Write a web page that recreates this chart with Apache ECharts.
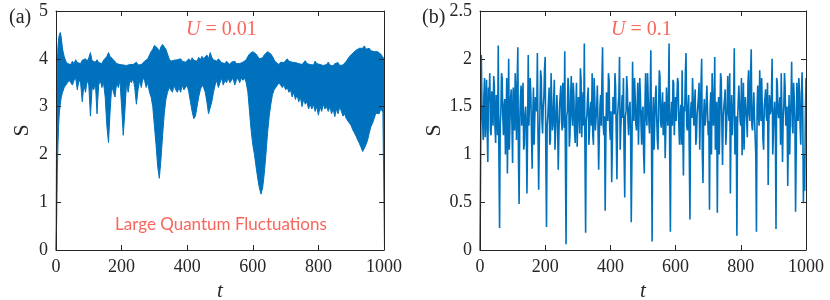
<!DOCTYPE html>
<html>
<head>
<meta charset="utf-8">
<script src="https://cdn.jsdelivr.net/npm/echarts@6/dist/echarts.min.js"></script>
<style>html,body{margin:0;padding:0;background:#fff}#c{width:830px;height:300px}</style>
</head>
<body>
<div id="c"></div>
<script>
// Panel (a): U = 0.01, envelope of the dense oscillation
const tA = [0,2,4,6,8,10,13,16,20,25,
30,35,40,45,50,55,60,65,70,75,
80,85,90,95,100,105,110,115,120,125,
130,135,140,145,150,155,160,165,170,175,
180,185,190,195,200,205,210,215,220,225,
230,235,240,245,250,255,260,265,270,275,
280,285,290,295,300,305,310,315,320,325,
330,335,340,345,350,355,360,365,370,375,
380,385,390,395,400,405,410,415,420,425,
430,435,440,445,450,455,460,465,470,475,
480,485,490,495,500,505,510,515,520,525,
530,535,540,545,550,555,560,565,570,575,
580,585,590,595,600,605,610,615,620,625,
630,635,640,645,650,655,660,665,670,675,
680,685,690,695,700,705,710,715,720,725,
730,735,740,745,750,755,760,765,770,775,
780,785,790,795,800,805,810,815,820,825,
830,835,840,845,850,855,860,865,870,875,
880,885,890,895,900,905,910,915,920,925,
930,935,940,945,950,955,960,965,970,975,
980,985,990,995,1000];
const upperA = [0,3.0,3.9,4.25,4.42,4.5,4.55,4.45,4.2,4.05,
3.95,3.9,3.93,3.88,3.95,3.9,3.98,3.92,3.96,3.9,
3.97,3.93,4.0,3.95,4.02,4.13,3.96,4.0,3.93,3.98,
3.92,3.95,3.9,3.97,4.0,4.05,4.13,4.05,4.08,3.98,
3.95,3.9,3.93,3.88,3.92,3.87,3.9,3.86,3.9,3.88,
3.92,3.88,3.9,3.93,3.87,3.9,3.88,3.92,3.95,3.98,
4.0,4.08,4.15,4.2,4.28,4.3,4.22,4.15,4.25,4.3,
4.28,4.2,4.1,4.0,3.95,3.92,3.97,3.93,3.98,3.95,
4.0,3.95,3.98,3.93,3.97,4.0,3.95,4.02,3.97,4.0,
3.95,4.03,3.98,4.05,4.0,4.02,4.08,4.0,4.13,4.03,
3.98,4.02,3.95,4.0,3.97,3.92,3.96,3.9,3.95,3.92,
3.88,3.93,3.9,3.95,3.9,3.86,3.9,3.88,3.93,3.95,
3.98,4.05,4.1,4.12,4.15,4.13,4.1,4.05,4.0,3.98,
4.02,4.08,4.12,4.15,4.15,4.1,4.05,3.98,3.93,3.9,
3.88,3.93,3.97,3.92,3.96,4.0,3.95,3.98,3.93,3.97,
3.92,3.95,3.9,3.94,3.88,3.92,3.96,3.9,3.94,3.88,
3.92,3.87,3.95,3.9,3.93,3.88,3.92,3.86,3.9,3.88,
3.93,3.87,3.9,3.85,3.9,3.88,3.92,3.86,3.9,3.87,
3.9,3.95,4.0,4.05,4.08,4.12,4.15,4.18,4.2,4.22,
4.25,4.22,4.27,4.2,4.18,4.22,4.17,4.2,4.15,4.18,
4.15,4.12,4.1,4.05,4.0];
const lowerA = [0,0.6,1.6,2.2,2.6,2.85,3.05,3.2,3.3,3.4,
3.45,3.5,3.55,3.5,3.45,3.55,3.6,3.35,3.55,3.5,
3.1,3.45,3.3,3.55,3.45,2.8,3.4,3.35,3.5,2.85,
3.45,3.55,3.4,3.5,3.2,2.6,2.25,2.9,3.45,3.3,
3.2,3.5,3.4,3.55,3.0,2.4,2.9,3.5,3.3,3.55,
3.5,3.6,3.4,3.05,3.35,3.55,3.4,3.6,3.55,3.4,
3.5,3.3,3.2,3.0,2.6,2.2,1.75,1.5,1.9,2.4,
2.85,3.15,3.3,3.4,3.35,3.3,3.45,3.35,3.3,3.4,
3.3,3.45,3.35,3.4,3.45,3.3,3.1,2.9,2.75,2.8,
3.0,3.2,3.35,3.45,3.4,3.3,3.1,2.85,2.82,3.1,
3.3,3.45,3.55,3.4,3.5,3.6,3.45,3.55,3.5,3.6,
3.5,3.55,3.6,3.45,3.55,3.6,3.5,3.6,3.55,3.6,
3.5,3.3,2.9,2.5,2.2,2.0,1.74,1.5,1.3,1.17,
1.3,1.6,2.0,2.45,2.8,3.05,3.25,3.35,3.4,3.45,
3.5,3.45,3.4,3.45,3.35,3.4,3.3,3.35,3.2,3.3,
3.15,3.25,3.1,3.2,3.0,3.15,3.05,3.1,2.95,3.05,
2.95,3.05,2.9,3.0,2.82,3.0,2.9,3.05,2.95,3.0,
2.9,3.0,2.85,2.95,2.79,2.95,2.85,3.0,2.9,2.8,
2.85,2.75,2.72,2.65,2.6,2.51,2.45,2.38,2.3,2.23,
2.15,2.06,2.1,2.2,2.3,2.45,2.58,2.65,2.75,2.86,
2.9,2.85,2.95,2.9,2.93];

// Panel (b): U = 0.1 — samples at t = 0,4,8,...,1000
const tB = [0,4,8,12,16,20,24,28,32,36,40,44,48,52,56,60,64,68,72,76,
80,84,88,92,96,100,104,108,112,116,120,124,128,132,136,140,144,148,152,156,
160,164,168,172,176,180,184,188,192,196,200,204,208,212,216,220,224,228,232,236,
240,244,248,252,256,260,264,268,272,276,280,284,288,292,296,300,304,308,312,316,
320,324,328,332,336,340,344,348,352,356,360,364,368,372,376,380,384,388,392,396,
400,404,408,412,416,420,424,428,432,436,440,444,448,452,456,460,464,468,472,476,
480,484,488,492,496,500,504,508,512,516,520,524,528,532,536,540,544,548,552,556,
560,564,568,572,576,580,584,588,592,596,600,604,608,612,616,620,624,628,632,636,
640,644,648,652,656,660,664,668,672,676,680,684,688,692,696,700,704,708,712,716,
720,724,728,732,736,740,744,748,752,756,760,764,768,772,776,780,784,788,792,796,
800,804,808,812,816,820,824,828,832,836,840,844,848,852,856,860,864,868,872,876,
880,884,888,892,896,900,904,908,912,916,920,924,928,932,936,940,944,948,952,956,
960,964,968,972,976,980,984,988,992,996,1000];
const sB = [0,2.04,1.35,1.62,1.18,1.78,0.92,1.55,1.25,1.66,
1.3,1.72,1.12,1.5,2.14,0.23,1.45,1.8,1.2,1.58,
1.28,0.80,2.0,1.35,1.68,0.91,1.52,1.85,1.15,2.12,
0.48,1.6,1.3,1.75,1.1,1.5,0.59,2.04,1.32,1.62,
0.85,1.7,1.38,1.55,2.06,0.63,1.48,1.8,1.22,1.6,
2.02,0.24,1.4,1.7,1.15,1.55,1.3,1.78,1.05,1.62,
0.84,1.5,1.72,1.25,1.58,2.08,0.06,1.45,1.68,1.2,
1.82,1.3,1.6,1.12,1.75,1.35,1.5,1.9,1.18,1.65,
2.16,0.18,1.42,1.7,1.25,1.55,1.85,1.1,1.6,1.38,
1.72,0.84,1.5,1.3,2.12,1.2,0.41,1.65,1.35,1.78,
1.15,0.71,1.6,1.42,1.7,0.74,1.52,2.02,1.28,1.62,
1.8,0.55,1.45,1.68,1.2,1.55,0.29,1.97,1.35,1.6,
1.25,1.75,1.4,1.62,1.1,1.5,0.80,1.85,1.3,1.58,
1.22,2.09,0.09,1.6,1.35,1.72,1.15,1.5,1.82,1.28,
1.65,1.4,0.96,1.7,1.3,2.16,0.19,1.55,1.78,1.2,
1.6,1.35,1.75,1.1,1.52,1.88,0.78,1.45,2.06,1.25,
1.62,0.32,1.55,1.8,1.3,1.68,1.18,1.5,1.75,1.05,
2.0,0.70,1.58,1.35,1.72,1.2,0.42,1.65,1.85,1.3,
2.02,1.15,0.39,1.6,1.42,1.78,0.89,1.5,1.68,1.25,
1.82,1.35,0.59,1.62,1.4,2.11,1.2,0.15,1.55,1.7,
1.3,0.99,1.75,1.45,1.6,1.18,1.88,1.35,2.1,1.25,
1.65,1.4,0.19,1.72,1.3,1.58,1.8,1.15,1.5,1.68,
1.35,0.68,1.62,1.45,2.0,1.2,1.55,0.22,1.75,1.38,
1.6,1.85,0.92,1.5,1.7,1.28,0.67,1.62,1.4,1.97,
1.22,1.58,0.40,1.75,1.35,1.65,1.1,1.86,0.50,0.62,
1.8];
// Panel (b) — in-between samples at t = 2,6,10,...,998
const tBmid = [2,6,10,14,18,22,26,30,34,38,42,46,50,54,58,62,66,70,74,78,
82,86,90,94,98,102,106,110,114,118,122,126,130,134,138,142,146,150,154,158,
162,166,170,174,178,182,186,190,194,198,202,206,210,214,218,222,226,230,234,238,
242,246,250,254,258,262,266,270,274,278,282,286,290,294,298,302,306,310,314,318,
322,326,330,334,338,342,346,350,354,358,362,366,370,374,378,382,386,390,394,398,
402,406,410,414,418,422,426,430,434,438,442,446,450,454,458,462,466,470,474,478,
482,486,490,494,498,502,506,510,514,518,522,526,530,534,538,542,546,550,554,558,
562,566,570,574,578,582,586,590,594,598,602,606,610,614,618,622,626,630,634,638,
642,646,650,654,658,662,666,670,674,678,682,686,690,694,698,702,706,710,714,718,
722,726,730,734,738,742,746,750,754,758,762,766,770,774,778,782,786,790,794,798,
802,806,810,814,818,822,826,830,834,838,842,846,850,854,858,862,866,870,874,878,
882,886,890,894,898,902,906,910,914,918,922,926,930,934,938,942,946,950,954,958,
962,966,970,974,978,982,986,990,994,998];
const sBmid = [1.0,1.52,1.15,1.8,1.4,1.25,1.7,1.85,1.2,1.48,
1.82,1.28,1.62,1.2,1.0,1.3,1.85,1.4,1.5,1.0,
1.8,1.38,1.05,1.6,1.3,1.7,1.25,1.6,1.75,0.95,
1.35,1.72,1.58,1.05,1.42,1.3,1.25,1.3,1.8,1.2,
1.42,1.1,1.6,1.45,1.2,1.15,1.88,1.35,1.5,1.9,
0.95,1.3,1.55,1.1,1.85,1.25,1.58,1.05,1.45,1.35,
1.2,1.62,1.35,1.75,1.28,0.95,1.4,1.8,1.08,1.6,
1.4,1.75,1.25,1.48,1.08,1.6,1.22,1.78,1.42,1.3,
1.0,1.35,1.6,1.1,1.48,1.3,1.2,1.8,1.25,1.5,
1.3,1.2,1.62,1.78,1.3,1.4,1.15,1.5,1.85,1.25,
1.45,1.1,1.52,1.85,1.2,1.4,1.62,1.05,1.45,1.38,
1.0,1.4,1.82,1.35,1.48,1.25,0.98,1.45,1.8,1.32,
1.5,1.1,1.8,1.3,1.45,1.0,1.5,1.4,1.85,1.35,
1.6,1.2,1.4,1.05,1.58,1.4,1.05,1.88,1.35,1.5,
1.2,1.55,1.25,1.7,1.62,0.95,1.4,1.3,1.75,1.45,
1.35,1.8,1.3,1.42,1.1,1.3,1.5,1.85,1.3,1.48,
1.0,1.45,1.38,1.8,1.5,1.1,1.42,1.6,1.05,1.75,
1.0,1.4,1.3,1.55,1.7,1.35,1.5,1.0,1.6,1.45,
1.05,1.55,1.35,1.0,1.85,1.3,1.4,1.58,1.1,1.5,
1.45,1.85,1.3,1.2,1.55,1.0,1.4,1.3,1.72,1.35,
1.8,1.4,1.05,1.6,1.35,1.75,1.42,1.85,1.3,1.45,
1.38,1.0,1.5,1.42,1.88,1.35,1.48,1.05,1.58,1.4,
1.75,1.3,1.42,1.62,1.0,1.45,1.3,1.8,1.45,1.5,
1.1,1.45,1.38,1.85,1.3,1.5,1.2,1.0,1.55,1.3,
1.75,1.35,1.05,1.5,1.8,1.3,1.62,1.45,1.0,1.4];

const xTicks = [0, 1000, 200];
const yTicksA = [0, 5, 1];
const yTicksB = [0, 2.5, 0.5];

const blue = '#0072BD';
const red = '#F8665C';
const ink = '#262626';
const serif = "'Liberation Serif', 'Times New Roman', serif";

function xAx(grid, pos, withLabel) {
  return {
    gridIndex: grid, type: 'value', position: pos, z: 5,
    min: xTicks[0], max: xTicks[1], interval: xTicks[2],
    axisLine: {show: true, onZero: false, lineStyle: {color: ink, width: 1}},
    axisTick: {show: true, inside: true, length: 5, lineStyle: {color: ink}},
    axisLabel: {show: withLabel, fontFamily: serif, fontSize: 18, color: ink, margin: 8,
                formatter: v => String(v)},
    splitLine: {show: false},
    name: withLabel ? 't' : '', nameLocation: 'middle', nameGap: 31,
    nameTextStyle: {fontFamily: serif, fontStyle: 'italic', fontSize: 21, color: ink}
  };
}
function yAx(grid, pos, ticks, withLabel, gap) {
  return {
    gridIndex: grid, type: 'value', position: pos, z: 5,
    min: ticks[0], max: ticks[1], interval: ticks[2],
    axisLine: {show: true, onZero: false, lineStyle: {color: ink, width: 1}},
    axisTick: {show: true, inside: true, length: 5, lineStyle: {color: ink}},
    axisLabel: {show: withLabel, fontFamily: serif, fontSize: 18, color: ink, margin: 8,
                formatter: v => String(v)},
    splitLine: {show: false},
    name: withLabel ? 'S' : '', nameLocation: 'middle', nameGap: gap, nameRotate: 90,
    nameTextStyle: {fontFamily: serif, fontSize: 22, color: ink}
  };
}

const upperData = tA.map((t, i) => [t, upperA[i]]);
const lowerData = tA.map((t, i) => [t, lowerA[i]]);
// merge the two sample sets of panel (b) in time order
const bData = tB.map((t, i) => [t, sB[i]]).concat(tBmid.map((t, i) => [t, sBmid[i]]))
  .sort((a, b) => a[0] - b[0]);

const chart = echarts.init(document.getElementById('c'), null, {renderer: 'canvas'});
chart.setOption({
  animation: false,
  backgroundColor: '#fff',
  textStyle: {fontFamily: serif},
  grid: [
    {left: 56, right: 446, top: 11, bottom: 50, containLabel: false, outerBoundsMode: 'none'},
    {left: 480, right: 24, top: 11, bottom: 50, containLabel: false, outerBoundsMode: 'none'}
  ],
  xAxis: [xAx(0, 'bottom', true), xAx(0, 'top', false), xAx(1, 'bottom', true), xAx(1, 'top', false)],
  yAxis: [yAx(0, 'left', yTicksA, true, 23), yAx(0, 'right', yTicksA, false, 0),
          yAx(1, 'left', yTicksB, true, 33), yAx(1, 'right', yTicksB, false, 0)],
  title: [
    {text: '(a)', left: 4, top: 3, textStyle: {fontFamily: serif, fontSize: 20, fontWeight: 'normal', color: ink}},
    {text: '(b)', left: 417, top: 3, textStyle: {fontFamily: serif, fontSize: 20, fontWeight: 'normal', color: ink}},
    {text: '{i|U} = 0.01', left: 181, top: 15, textStyle: {fontFamily: serif, fontSize: 20, fontWeight: 'normal', color: red,
      rich: {i: {fontFamily: serif, fontStyle: 'italic', fontSize: 20, color: red}}}},
    {text: '{i|U} = 0.1', left: 606, top: 15, textStyle: {fontFamily: serif, fontSize: 20, fontWeight: 'normal', color: red,
      rich: {i: {fontFamily: serif, fontStyle: 'italic', fontSize: 20, color: red}}}},
    {text: 'Large Quantum Fluctuations', left: 110, top: 211, textStyle: {fontFamily: 'Lato', fontSize: 17, fontWeight: 'normal', color: red}}
  ],
  series: [
    {type: 'line', xAxisIndex: 0, yAxisIndex: 0, data: upperData, symbol: 'none', z: 2,
     lineStyle: {color: blue, width: 1}, areaStyle: {color: blue, opacity: 1}},
    {type: 'line', xAxisIndex: 0, yAxisIndex: 0, data: lowerData, symbol: 'none', z: 3,
     lineStyle: {color: blue, width: 1}, areaStyle: {color: '#ffffff', opacity: 1}},
    {type: 'line', xAxisIndex: 2, yAxisIndex: 2, data: bData, symbol: 'none',
     lineStyle: {color: blue, width: 1.6}, z: 2}
  ]
});
</script>
</body>
</html>
